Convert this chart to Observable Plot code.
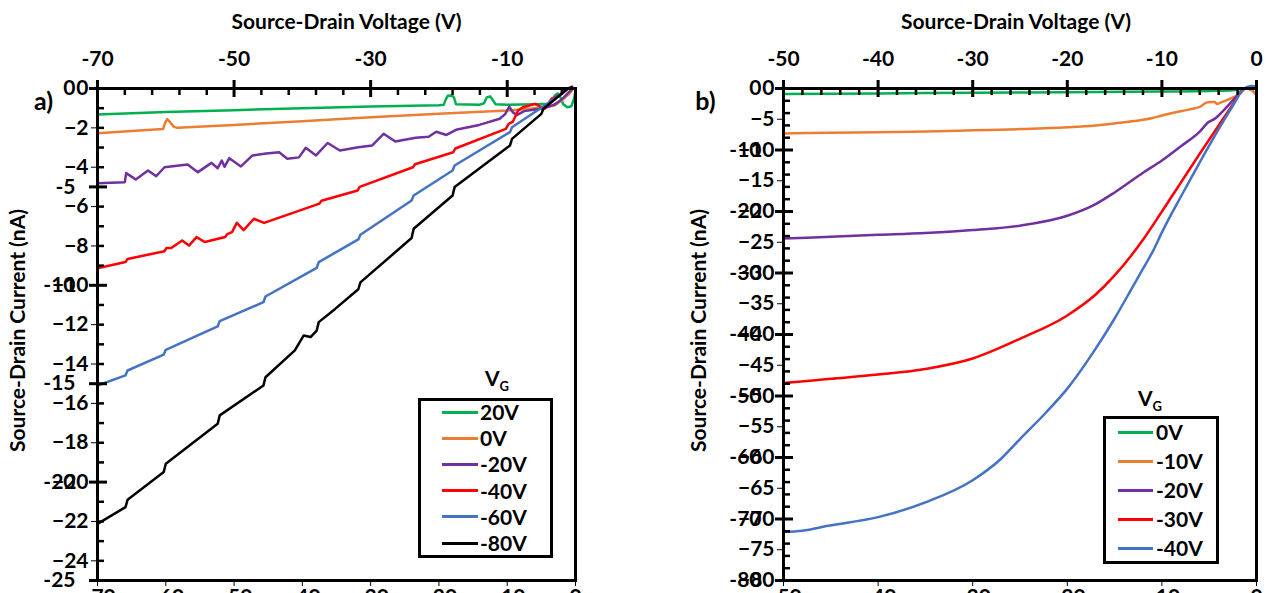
<!DOCTYPE html>
<html><head><meta charset="utf-8">
<script src="https://cdn.jsdelivr.net/npm/d3@7"></script>
<script src="https://cdn.jsdelivr.net/npm/@observablehq/plot@0.6"></script>
<style>
html,body{margin:0;padding:0;background:#fff;}
#wrap{position:relative;width:1270px;height:593px;overflow:hidden;font-family:Lato,"Open Sans",sans-serif;font-weight:bold;color:#000;}
.pnl{position:absolute;top:0;height:593px;}
.pnl svg{max-width:none;}
.lgd-box{position:absolute;border:3px solid #000;box-sizing:border-box;background:#fff;}
.lgd-row{position:absolute;left:0;height:0;}
.lgd-sw{position:absolute;height:3px;margin-top:-1.5px;}
.lgd-tx{position:absolute;font-size:21px;line-height:21px;margin-top:-11px;white-space:nowrap;}
.lgd-ti{position:absolute;font-size:21px;line-height:21px;white-space:nowrap;}
.lgd-ti sub{font-size:13px;vertical-align:baseline;position:relative;top:5px;}
</style></head>
<body><div id="wrap"></div>
<script>
// ---------- data: panel a) ----------
const aLabels = ["20V","0V","-20V","-40V","-60V","-80V"];
const aColors = ["#00B050","#ED7D31","#7030A0","#FF0000","#4472C4","#000000"];
const a_20V = [[-70,-1.32],[-60,-1.2],[-50,-1.1],[-40,-1.0],[-30,-0.92],[-20,-0.85],[-19.3,-0.83],[-19,-0.55],[-18.7,-0.37],[-18.2,-0.35],[-17.8,-0.45],[-17.5,-0.8],[-14,-0.82],[-13.4,-0.75],[-13,-0.45],[-12.5,-0.4],[-12.1,-0.6],[-11.7,-0.8],[-10,-0.82],[-6,-0.8],[-4,-0.78],[-3.4,-0.6],[-3,-0.35],[-2.6,-0.25],[-2.2,-0.45],[-1.8,-0.8],[-1.2,-0.95],[-0.6,-0.9],[-0.2,-0.5],[0,-0.1]];
const a_0V = [[-70,-2.27],[-65,-2.16],[-60.4,-2.06],[-60.1,-1.75],[-59.8,-1.55],[-59.4,-1.7],[-58.8,-1.95],[-58.3,-2.0],[-50,-1.85],[-40,-1.66],[-30,-1.46],[-20,-1.28],[-10,-1.12],[-5,-0.98],[-3,-0.85],[-2,-0.6],[-1,-0.3],[-0.3,0]];
const a_m20V = [[-70,-4.81],[-66,-4.76],[-65.8,-4.3],[-64.4,-4.62],[-62.6,-4.17],[-61.4,-4.46],[-60.2,-4.0],[-56.8,-3.86],[-55.3,-4.25],[-53.3,-3.78],[-52.4,-4.05],[-51.8,-3.66],[-51.4,-3.98],[-50.7,-3.54],[-49,-3.96],[-47.3,-3.4],[-45.3,-3.3],[-43.4,-3.24],[-42.2,-3.57],[-40.5,-3.5],[-39.5,-3.01],[-38,-3.4],[-36.3,-2.77],[-34.5,-3.15],[-31.8,-2.98],[-29.8,-2.9],[-28.1,-2.3],[-26.4,-2.69],[-23.4,-2.5],[-21.5,-2.45],[-20.4,-2.2],[-18.9,-2.36],[-17.5,-2.1],[-14.1,-1.85],[-11.1,-1.54],[-10.3,-1.3],[-9.7,-0.92],[-9.2,-1.2],[-8.6,-1.35],[-7.5,-1.15],[-5.9,-1.07],[-4.5,-1.0],[-3,-0.8],[-2,-0.55],[-1,-0.2],[-0.4,0]];
const a_m40V = [[-70,-9.13],[-65.9,-8.82],[-65.6,-8.66],[-60.2,-8.27],[-59.9,-8.1],[-59.2,-8.1],[-57.6,-7.72],[-56.6,-7.98],[-55.5,-7.55],[-54.3,-7.8],[-51.3,-7.55],[-51,-7.4],[-50.3,-7.3],[-49.6,-6.83],[-48.6,-7.2],[-47.1,-6.62],[-45.6,-6.83],[-37.5,-5.85],[-37.2,-5.7],[-31.9,-5.18],[-31.6,-5.0],[-23.8,-4.0],[-23.5,-3.85],[-17.9,-3.24],[-17.6,-3.05],[-10.2,-2.05],[-9.8,-1.8],[-9.2,-1.7],[-8.4,-1.12],[-7.7,-0.95],[-5.9,-0.78],[-4.5,-1.03],[-3.5,-0.52],[-2.1,-0.3],[-1.1,0],[-0.5,0.1]];
const a_m60V = [[-70,-15.09],[-65.9,-14.58],[-65.6,-14.33],[-60.3,-13.52],[-60,-13.28],[-52.4,-12.09],[-52.1,-11.82],[-45.7,-10.86],[-45.4,-10.57],[-37.9,-9.11],[-37.6,-8.82],[-31.8,-7.67],[-31.5,-7.43],[-24,-5.69],[-23.7,-5.44],[-18,-4.17],[-17.7,-3.91],[-9.6,-2.22],[-9.3,-1.97],[-4.5,-0.86],[-1.1,0],[-0.5,0.05]];
const a_m80V = [[-70,-22.12],[-65.9,-21.27],[-65.6,-20.9],[-60.3,-19.49],[-60,-19.07],[-52.4,-17.04],[-52.1,-16.61],[-45.7,-15.09],[-45.4,-14.67],[-41.1,-13.31],[-39.8,-12.55],[-38.8,-12.63],[-37.9,-12.3],[-37.6,-11.87],[-35.2,-11.2],[-31.8,-10.2],[-31.5,-9.85],[-24,-7.6],[-23.7,-7.13],[-18,-5.44],[-17.7,-5.01],[-9.6,-2.9],[-9.3,-2.56],[-5,-1.29],[-4.7,-1.03],[-1.1,0],[-0.5,0.05]];
const aSeries = [a_20V, a_0V, a_m20V, a_m40V, a_m60V, a_m80V];
const aXTicks = [-70,-50,-30,-10];
const aYTicks = [0,-5,-10,-15,-20,-25];

// ---------- data: panel b) ----------
const bLabels = ["0V","-10V","-20V","-30V","-40V"];
const bColors = ["#00B050","#ED7D31","#7030A0","#FF0000","#4472C4"];
const b_0V = [[-50,-0.9],[-40,-0.8],[-30,-0.7],[-20,-0.6],[-10,-0.5],[-5,-0.4],[-2.5,-0.3],[-1.4,0],[0,0.15]];
const b_m10V = [[-50,-7.3],[-45,-7.2],[-40,-7.1],[-35,-7.0],[-30,-6.8],[-25,-6.6],[-20,-6.3],[-17,-6.0],[-14,-5.5],[-11,-4.8],[-10,-4.4],[-8,-3.7],[-6.5,-3.2],[-6,-3.0],[-5.3,-2.3],[-4.8,-2.2],[-4.4,-2.2],[-4.2,-2.5],[-3.8,-2.3],[-3,-1.8],[-1.8,-0.9],[-1.1,0],[-0.5,-0.3],[0,-1.1]];
const b_m20V = [[-50,-24.4],[-45,-24.1],[-40,-23.8],[-35,-23.5],[-30,-23.0],[-25,-22.3],[-20,-20.7],[-17,-18.8],[-15,-16.9],[-12,-13.7],[-10,-11.7],[-8,-9.4],[-6,-7.0],[-5.1,-5.5],[-4.4,-4.9],[-3.5,-3.6],[-2.3,-1.6],[-1.3,0],[-0.5,0.3],[0,0.2]];
const b_m30V = [[-50,-47.9],[-45,-47.2],[-40,-46.5],[-35,-45.6],[-30,-43.9],[-25,-40.7],[-20,-36.9],[-17,-33.5],[-15,-30.4],[-12,-24.6],[-10,-20.0],[-8,-15.3],[-6,-10.6],[-4,-6.0],[-2.5,-2.6],[-1.3,0],[-0.5,0.3],[0,0.3]];
const b_m40V = [[-50,-72.1],[-48,-71.9],[-45.3,-71.1],[-40,-69.7],[-35,-67.3],[-30,-63.7],[-27,-60.2],[-25,-57.0],[-22.2,-52.6],[-20,-48.8],[-17,-42.3],[-15,-37.4],[-13,-32.0],[-12,-29.3],[-11,-26.6],[-10,-23.4],[-8,-17.6],[-6,-12.0],[-4,-6.6],[-2.5,-2.8],[-1.3,0],[-0.5,0.4],[0,0.3]];
const bSeries = [b_0V, b_m10V, b_m20V, b_m30V, b_m40V];
const bXTicks = [-50,-40,-30,-20,-10,0];
const bYTicks = [0,-10,-20,-30,-40,-50,-60,-70,-80];

const xTitle = "Source-Drain Voltage (V)";
const yTitle = "Source-Drain Current (nA)";

// ---------- drawing ----------
const H = 593, MT = 88, MB = 13, FH = H - MT - MB;
const STYLE = {fontFamily: "Lato, 'Open Sans', sans-serif", fontSize: "21px", fontWeight: "bold", color: "black", background: "transparent", overflow: "visible"};
const wrap = document.getElementById("wrap");

function addSvg(svg, left, width) {
  const d = document.createElement("div");
  d.className = "pnl";
  d.style.left = left + "px";
  d.style.width = width + "px";
  d.appendChild(svg);
  wrap.appendChild(d);
}

function panel(cfg) {
  const {left, series, colors, xDomain, yDomain, xMajor, xMinor, yMajor, yMinor, width, marginLeft, marginRight, letter, letterDx, titleDx, yTitleDx, curve} = cfg;
  const FW = width - marginLeft - marginRight;
  const common = {width, height: H, marginLeft, marginRight, marginTop: MT, marginBottom: MB,
    x: {domain: xDomain}, y: {domain: yDomain}, style: STYLE};
  // data layer
  const base = Plot.plot({...common,
    marks: series.map((s, i) => Plot.line(s, {x: d => d[0], y: d => d[1], stroke: colors[i], strokeWidth: 2.5, curve}))
  });
  // frame, ticks, tick labels and titles layer (same scales)
  const over = Plot.plot({...common,
    marks: [
      Plot.frame({stroke: "black", strokeWidth: 3}),
      Plot.tickX(xMajor, {x: d => d, insetTop: -8, insetBottom: FH - 9, stroke: "black", strokeWidth: 3}),
      Plot.tickX(xMinor, {x: d => d, insetTop: 0, insetBottom: FH - 7, stroke: "black", strokeWidth: 2.5}),
      Plot.tickY(yMajor, {y: d => d, insetLeft: -8, insetRight: FW - 10, stroke: "black", strokeWidth: 3}),
      Plot.tickY(yMinor, {y: d => d, insetLeft: 0, insetRight: FW - 7, stroke: "black", strokeWidth: 2.5}),
      Plot.axisX({anchor: "top", ticks: xMajor, tickSize: 0, tickPadding: 23, tickFormat: String, label: null}),
      Plot.axisY({anchor: "left", ticks: yMajor, tickSize: 0, tickPadding: 22, tickFormat: String, label: null}),
      Plot.text([xTitle], {text: d => d, frameAnchor: "top", dy: -66, dx: titleDx, fontSize: 21, textAnchor: "middle", lineAnchor: "middle"}),
      Plot.text([yTitle], {text: d => d, frameAnchor: "left", rotate: -90, dx: yTitleDx, dy: -4, fontSize: 21, textAnchor: "middle", lineAnchor: "middle"}),
      Plot.text([letter], {text: d => d, frameAnchor: "top-left", dx: letterDx, dy: 13, fontSize: 25, textAnchor: "middle", lineAnchor: "middle"})
    ]
  });
  addSvg(base, left, width);
  addSvg(over, left, width);
}

panel({
  left: 0, series: aSeries, colors: aColors, xDomain: [-70, 0], yDomain: [-25, 0],
  xMajor: aXTicks, xMinor: d3.range(-66, 0, 4).filter(v => !aXTicks.includes(v)),
  yMajor: aYTicks, yMinor: d3.range(-24, 0, 1).filter(v => v % 5 !== 0),
  width: 640, marginLeft: 97, marginRight: 65, letter: "a)", letterDx: -54, titleDx: 10, yTitleDx: -79, curve: "linear"
});
panel({
  left: 640, series: bSeries, colors: bColors, xDomain: [-50, 0], yDomain: [-80, 0],
  xMajor: bXTicks, xMinor: d3.range(-48, 0, 2).filter(v => v % 10 !== 0),
  yMajor: bYTicks, yMinor: d3.range(-78, 0, 2).filter(v => v % 10 !== 0),
  width: 630, marginLeft: 143, marginRight: 14, letter: "b)", letterDx: -78, titleDx: -4, yTitleDx: -84, curve: "monotone-x"
});

// ---------- legends ----------
function legend({labels, colors, left, top, w, h, rowTop, rowGap, swLeft, swW, txtLeft, titleLeft, titleTop}) {
  const t = document.createElement("div");
  t.className = "lgd-ti"; t.style.left = titleLeft + "px"; t.style.top = titleTop + "px";
  t.innerHTML = "V<sub>G</sub>";
  wrap.appendChild(t);
  const box = document.createElement("div");
  box.className = "lgd-box";
  Object.assign(box.style, {left: left + "px", top: top + "px", width: w + "px", height: h + "px"});
  labels.forEach((lab, i) => {
    const r = document.createElement("div");
    r.className = "lgd-row"; r.style.top = (rowTop + i * rowGap - 3) + "px";
    const sw = document.createElement("div");
    sw.className = "lgd-sw"; Object.assign(sw.style, {left: (swLeft - 3) + "px", width: swW + "px", background: colors[i]});
    const tx = document.createElement("div");
    tx.className = "lgd-tx"; tx.style.left = (txtLeft - 3) + "px"; tx.textContent = lab;
    r.appendChild(sw); r.appendChild(tx); box.appendChild(r);
  });
  wrap.appendChild(box);
}
legend({labels: aLabels, colors: aColors, left: 418, top: 398, w: 135, h: 160, rowTop: 14, rowGap: 26.2, swLeft: 24, swW: 36, txtLeft: 62, titleLeft: 485, titleTop: 367});
legend({labels: bLabels, colors: bColors, left: 1103, top: 416, w: 116, h: 148, rowTop: 16, rowGap: 29, swLeft: 15, swW: 35, txtLeft: 53, titleLeft: 1138, titleTop: 387});
</script>
</body></html>
